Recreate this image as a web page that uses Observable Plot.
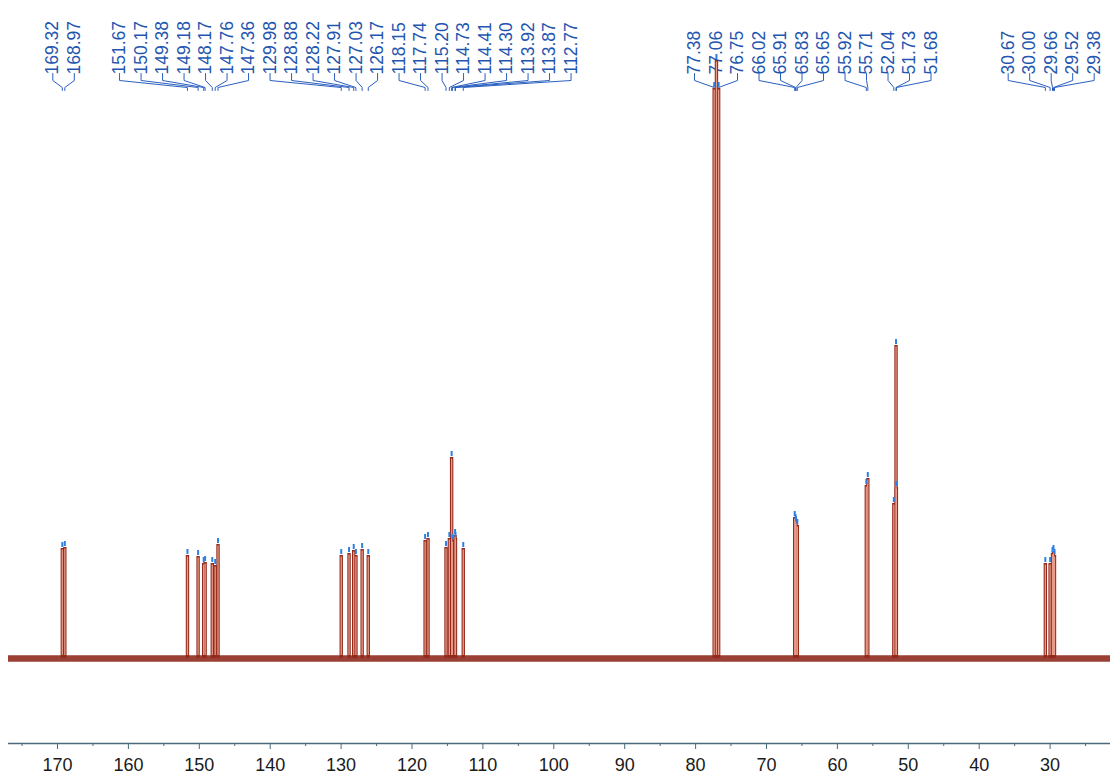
<!DOCTYPE html>
<html>
<head>
<meta charset="utf-8">
<script src="https://cdn.jsdelivr.net/npm/d3@7"></script>
<script src="https://cdn.jsdelivr.net/npm/@observablehq/plot@0.6"></script>
<style>
  html, body { margin: 0; padding: 0; background: #ffffff; }
  #chart { width: 1110px; height: 778px; }
</style>
</head>
<body>
<div id="chart"></div>
<script>
// Picked peak positions (ppm) and relative intensities
const peakPpm = [169.32, 168.97,
  151.67, 150.17, 149.38, 149.18, 148.17, 147.76, 147.36,
  129.98, 128.88, 128.22, 127.91, 127.03, 126.17,
  118.15, 117.74, 115.20, 114.73, 114.41, 114.30, 113.92, 113.87, 112.77,
  77.38, 77.06, 76.75,
  66.02, 65.91, 65.83, 65.65,
  55.92, 55.71,
  52.04, 51.73, 51.68,
  30.67, 30.00, 29.66, 29.52, 29.38];
const peakHeight = [110, 111,
  103, 102, 95, 96, 95, 93, 114,
  103, 105, 108, 103, 109, 103,
  118, 120, 111, 120, 201, 118, 123, 120, 110,
  570, 598, 570,
  141, 138, 136, 133,
  173, 180,
  155, 313, 171,
  95, 95, 105, 107, 103];
const peakLabel = peakPpm.map(v => v.toFixed(2));
const majorTicks = [170, 160, 150, 140, 130, 120, 110, 100, 90, 80, 70, 60, 50, 40, 30];
const minorTicks = [175, 165, 155, 145, 135, 125, 115, 105, 95, 85, 75, 65, 55, 45, 35, 25];

const peaks = peakPpm.map((p, i) => ({ppm: p, h: peakHeight[i], label: peakLabel[i]}));

// ---- layout ----
const W = 1110, H = 778, mTop = 88, mBottom = 35;
const xDomain = [178.04, 21.48];
const yDomain = [-85, 570];
const xs = Plot.scale({x: {domain: xDomain, range: [0, W]}});
const ys = Plot.scale({y: {domain: yDomain, range: [H - mBottom, mTop]}});

// spread labels so they don't overlap (cluster merging)
const spacing = 21.5;
const desired = peaks.map(d => xs.apply(d.ppm));
const clusters = [];
desired.forEach((x, i) => {
  clusters.push({first: i, n: 1, sum: x, start: x});
  while (clusters.length > 1) {
    const a = clusters[clusters.length - 2], b = clusters[clusters.length - 1];
    if (a.start + a.n * spacing > b.start) {
      const sum = a.sum + (b.sum - b.n * a.n * spacing);
      const n = a.n + b.n;
      clusters.splice(clusters.length - 2, 2, {first: a.first, n, sum, start: sum / n});
    } else break;
  }
});
const labelPx = [];
clusters.forEach(c => { for (let k = 0; k < c.n; k++) labelPx[c.first + k] = c.start + k * spacing; });
peaks.forEach((d, i) => d.lx = xs.invert(labelPx[i]));

const yLabel = ys.invert(74), yElbow1 = ys.invert(80), yElbow2 = ys.invert(87), yStem = ys.invert(90);
const connectors = [];
peaks.forEach((d, i) => {
  connectors.push({x: d.lx, y: yLabel + 1, z: i});
  connectors.push({x: d.lx, y: yElbow1, z: i});
  connectors.push({x: d.ppm, y: yElbow2, z: i});
  connectors.push({x: d.ppm, y: yStem, z: i});
});

const blue = "#1f56b0";
const axisCol = "#4a6b7c";

const chart = Plot.plot({
  width: W, height: H,
  marginTop: mTop, marginBottom: mBottom, marginLeft: 0, marginRight: 0,
  x: {domain: xDomain, axis: null, label: null},
  y: {domain: yDomain, axis: null, label: null},
  style: {background: "#ffffff", fontFamily: "'Liberation Sans', Arial, sans-serif"},
  marks: [
    // labels and connectors
    Plot.line(connectors, {x: "x", y: "y", z: "z", stroke: "#2a5fc0", strokeWidth: 1, curve: "linear"}),
    Plot.text(peaks, {x: "lx", y: () => yLabel, text: "label", rotate: -90, textAnchor: "start",
      fontSize: 17.5, fill: blue}),
    // baseline (noise band)
    Plot.ruleY([0], {stroke: "#8c2619", strokeWidth: 6.5, strokeOpacity: 0.88, insetLeft: 8}),
    // peaks
    Plot.ruleX(peaks, {x: "ppm", y1: 0, y2: "h", stroke: "#932b1d", strokeWidth: 3.4}),
    Plot.ruleX(peaks, {x: "ppm", y1: 3, y2: d => d.h - 1.5, stroke: "#e89b88", strokeWidth: 1.3}),
    // peak pick markers
    Plot.ruleX(peaks, {x: "ppm", y1: d => d.h + 1, y2: d => d.h + 6, stroke: "#2f7fe0", strokeWidth: 2}),
    // axis
    Plot.ruleY([yDomain[0]], {stroke: axisCol, strokeWidth: 1.4, insetLeft: 8}),
    Plot.axisX(majorTicks, {anchor: "bottom", tickSize: 6, tickFormat: () => "", stroke: axisCol, label: null}),
    Plot.axisX(minorTicks.filter(t => t < xDomain[0] && t > xDomain[1]), {anchor: "bottom", tickSize: 3, tickFormat: () => "", stroke: axisCol, label: null}),
    Plot.text(majorTicks, {x: d => d, frameAnchor: "bottom", dy: 27, text: d => String(d), fontSize: 18, fill: "#1a1a1a"})
  ]
});
document.getElementById("chart").appendChild(chart);
</script>
</body>
</html>
